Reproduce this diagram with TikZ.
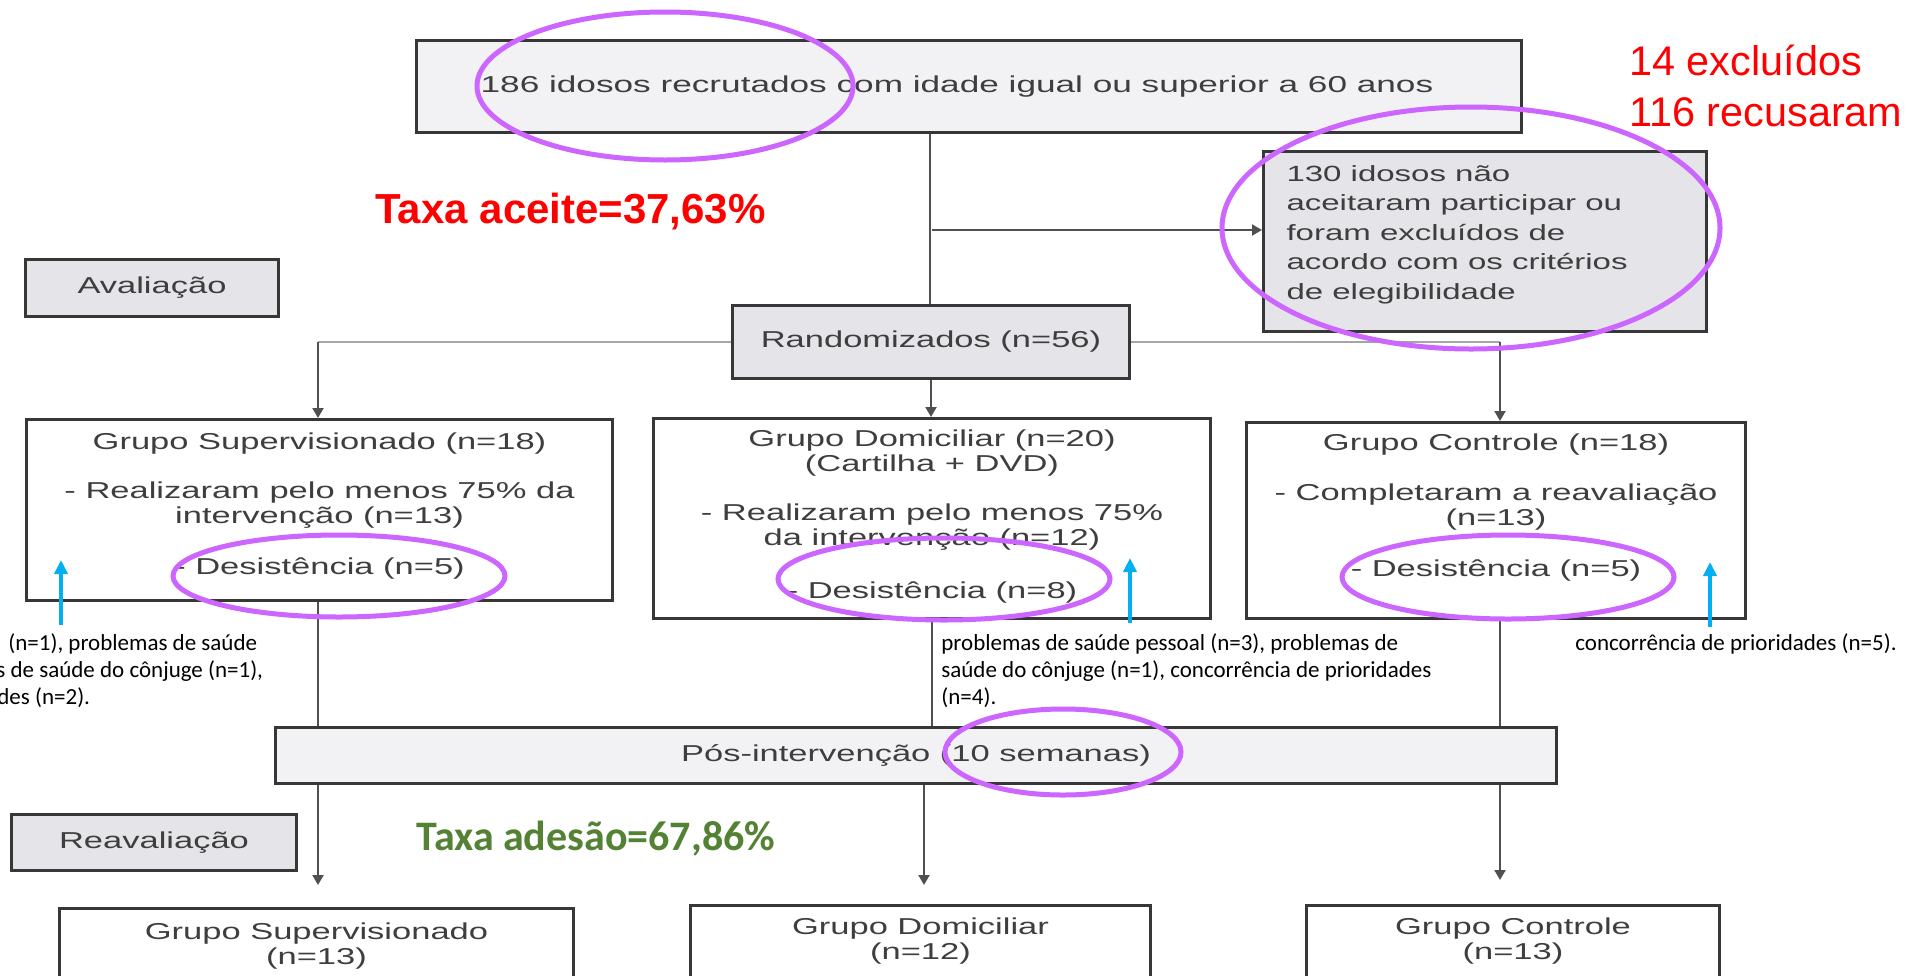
\documentclass[tikz,border=0pt]{standalone}
\usepackage{fontspec}
\setmainfont{Liberation Sans}
\newfontfamily\boxfont[FakeStretch=1.5]{Liberation Sans}
\newfontfamily\boxfontw[FakeStretch=1.53]{Liberation Sans}
\newfontfamily\calibfont{Carlito}
\usetikzlibrary{arrows.meta}

\definecolor{boxtext}{RGB}{62,62,62}
\definecolor{boxline}{RGB}{55,55,55}
\definecolor{fillA}{RGB}{242,242,245}
\definecolor{fillB}{RGB}{228,228,233}
\definecolor{connc}{RGB}{80,80,80}
\definecolor{connl}{RGB}{165,165,165}
\definecolor{ovalc}{RGB}{204,102,255}
\definecolor{bluec}{RGB}{0,176,240}
\definecolor{redc}{RGB}{255,0,0}
\definecolor{greenc}{RGB}{84,130,53}

\newcommand\tbox[4]{\parbox[c][#2][t]{#1}{\centering\vspace*{#3}#4\par}}
\newcommand\lbox[4]{\parbox[c][#2][t]{#1}{\raggedright\leftskip=11.5pt\vspace*{#3}#4\par}}

\tikzset{
  box/.style={draw=boxline, line width=1.5pt, inner sep=0pt, anchor=north west,
    text=boxtext, font=\boxfont\fontsize{11.5pt}{12.5pt}\selectfont},
  conn/.style={draw=connc, line width=1pt},
  connlight/.style={draw=connl, line width=1pt},
  arr/.style={-{Triangle[length=5pt,width=5.5pt]}},
  oval/.style={draw=ovalc, line width=2.5pt},
  bluearr/.style={draw=bluec, line width=2.2pt, -{Triangle[length=7pt,width=6.5pt]}},
  note/.style={font=\calibfont\fontsize{11.5pt}{13.5pt}\selectfont, align=left,
    inner sep=0pt, anchor=north west, text=black},
}

\begin{document}
\begin{tikzpicture}[x=0.5pt, y=-0.5pt]
\useasboundingbox (0,0) rectangle (1916,975);
\clip (0,0) rectangle (1916,975);

% column coordinates
\coordinate (c1) at (318,0);
\coordinate (c2) at (930,0);
\coordinate (c3) at (1500,0);
\coordinate (br) at (932,230);

% ---- boxes ----
\node[box, fill=fillA, minimum width=552.5pt, minimum height=46pt,
      font=\boxfontw\fontsize{11.5pt}{12.5pt}\selectfont] (top) at (415,39)
  {\hspace*{-12pt}186 idosos recrutados com idade igual ou superior a 60 anos};

\node[box, fill=fillB, font=\boxfont\fontsize{11pt}{14.75pt}\selectfont] (excl) at (1262,150)
  {\lbox{221.5pt}{90pt}{7pt}{130 idosos não\\aceitaram participar ou\\foram excluídos de\\acordo com os critérios\\de elegibilidade}};

\node[box, fill=fillB, minimum width=126.5pt, minimum height=28.5pt] (aval) at (24,258) {Avaliação};

\node[box, fill=fillB, minimum width=198.5pt, minimum height=36.5pt] (rand) at (731,304) {Randomizados (n=56)};

\node[box, fill=white] (sup) at (25,418)
  {\tbox{293pt}{90.5pt}{6.5pt}{Grupo Supervisionado (n=18)\\[12pt]
   - Realizaram pelo menos 75\% da\\intervenção (n=13)\\[13pt]- Desistência (n=5)}};

\node[box, fill=white] (dom) at (652,417)
  {\tbox{278.5pt}{100pt}{5.5pt}{Grupo Domiciliar (n=20)\\(Cartilha + DVD)\\[12pt]
   - Realizaram pelo menos 75\%\\da intervenção (n=12)\\[14pt]- Desistência (n=8)}};

\node[box, fill=white] (ctrl) at (1245,421)
  {\tbox{249.5pt}{98pt}{5.5pt}{Grupo Controle (n=18)\\[12.5pt]
   - Completaram a reavaliação\\(n=13)\\[13pt]- Desistência (n=5)}};

\node[box, fill=fillA, minimum width=640.5pt, minimum height=28pt] (pos) at (274,726)
  {Pós-intervenção (10 semanas)};

\node[box, fill=fillB, minimum width=142.5pt, minimum height=28pt] (reav) at (10,813) {Reavaliação};

\node[box, fill=white] (bsup) at (58,907)
  {\tbox{257pt}{60pt}{7pt}{Grupo Supervisionado\\(n=13)}};
\node[box, fill=white] (bdom) at (689,904)
  {\tbox{230pt}{60pt}{6pt}{Grupo Domiciliar\\(n=12)}};
\node[box, fill=white] (bctrl) at (1305,904)
  {\tbox{206.5pt}{60pt}{6pt}{Grupo Controle\\(n=13)}};

% ---- connectors ----
\draw[conn] (top.south -| c2) -- (rand.north -| c2);
\draw[conn, arr] (br) -- (br -| excl.west);
\draw[connlight] (rand.west) -- (c1 |- rand.west);
\draw[conn, arr] (c1 |- rand.west) -- (c1 |- sup.north);
\draw[conn, arr] (rand.south) -- (rand.south |- dom.north);
\draw[connlight] (rand.east) -- (c3 |- rand.east);
\draw[conn, arr] (c3 |- rand.east) -- (c3 |- ctrl.north);

\draw[conn] (c1 |- sup.south) -- (c1 |- pos.north);
\draw[conn] (dom.south) -- (dom.south |- pos.north);
\draw[conn] (c3 |- ctrl.south) -- (c3 |- pos.north);

\draw[conn, arr, shorten >=11pt] (c1 |- pos.south) -- (c1 |- bsup.north);
\draw[conn, arr, shorten >=9.5pt] ([xshift=-4pt]dom.south |- pos.south) -- ([xshift=-4pt]dom.south |- bdom.north);
\draw[conn, arr, shorten >=12pt] (c3 |- pos.south) -- (c3 |- bctrl.north);

% ---- red / green labels ----
\node[anchor=base west, inner sep=0pt, text=redc, font=\bfseries\fontsize{21pt}{24pt}\selectfont] (taxa1) at (375,223) {Taxa aceite=37,63\%};
\node[anchor=base west, inner sep=0pt, text=redc, font=\fontsize{20.7pt}{24pt}\selectfont] (exc) at (1629,75) {14 excluídos};
\node[anchor=base west, inner sep=0pt, text=redc, font=\fontsize{20.7pt}{24pt}\selectfont] (rec) at (1629,126) {116 recusaram};
\node[anchor=base west, inner sep=0pt, text=greenc, font=\calibfont\bfseries\fontsize{21pt}{25pt}\selectfont] (taxa2) at (416,850) {Taxa adesão=67,86\%};

% ---- annotations ----
\node[note] (lnote) at (-4,633) {\hspace*{6pt}(n=1), problemas de saúde\\s de saúde do cônjuge (n=1),\\\hspace*{0.5pt}des (n=2).};
\node[note] (mnote) at (941,633) {problemas de saúde pessoal (n=3), problemas de\\saúde do cônjuge (n=1), concorrência de prioridades\\(n=4).};
\node[note] (rnote) at (1575,633) {concorrência de prioridades (n=5).};

% ---- blue arrows ----
\coordinate (b1s) at (61,625);  \coordinate (b1e) at (61,560);
\coordinate (b2s) at (1130,623); \coordinate (b2e) at (1130,558);
\coordinate (b3s) at (1710,627); \coordinate (b3e) at (1710,562);
\draw[bluearr] (b1s) -- (b1e);
\draw[bluearr] (b2s) -- (b2e);
\draw[bluearr] (b3s) -- (b3e);

% ---- purple ellipses ----
\draw[oval] (665,86) ellipse [x radius=188, y radius=74];
\draw[oval] (1471,228) ellipse [x radius=249, y radius=121];
\draw[oval] (339,576) ellipse [x radius=166, y radius=41];
\draw[oval] (944,579) ellipse [x radius=166, y radius=41];
\draw[oval] (1508,577) ellipse [x radius=166, y radius=42];
\draw[oval] (1063,752) ellipse [x radius=118, y radius=43];
\end{tikzpicture}
\end{document}
